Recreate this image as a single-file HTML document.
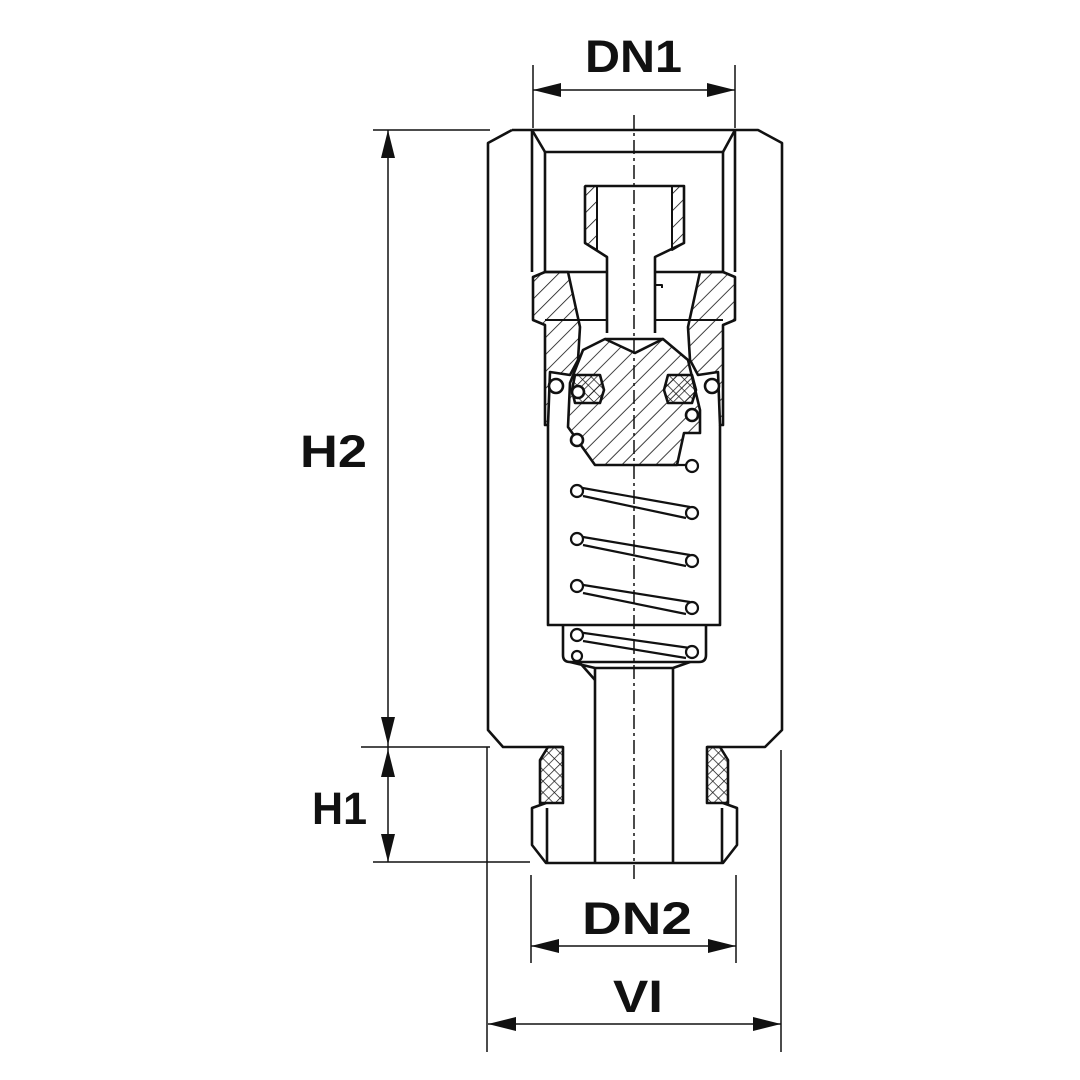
<!DOCTYPE html>
<html><head><style>html,body{margin:0;padding:0;background:#fff}svg{display:block}</style></head>
<body>
<svg width="1080" height="1080" viewBox="0 0 1080 1080" xmlns="http://www.w3.org/2000/svg">
<defs>
<pattern id="h" width="12" height="12" patternUnits="userSpaceOnUse" patternTransform="rotate(45)">
<line x1="0" y1="0" x2="0" y2="12" stroke="#111" stroke-width="1.6"/></pattern>
<pattern id="x" width="8" height="8" patternUnits="userSpaceOnUse" patternTransform="rotate(45)">
<line x1="0" y1="0" x2="0" y2="8" stroke="#111" stroke-width="1.4"/><line x1="0" y1="0" x2="8" y2="0" stroke="#111" stroke-width="1.4"/></pattern>
</defs>
<g fill="none" stroke="#111" stroke-width="2.6" stroke-linejoin="round">
<!-- outer body -->
<path d="M512,130 L758,130 L782,143 L782,730 L765,747 L707,747"/>
<path d="M563,747 L503,747 L488,730 L488,143 L512,130"/>
<!-- inner bore -->
<path d="M532,130 L545,152 L723,152 L735,130"/>
<path d="M532,130 L532,272 M545,152 L545,272 M723,152 L723,272 M735,130 L735,272"/>
<!-- poppet head -->
<path d="M585,186 L684,186 L684,243 L655,257 L655,333 M585,186 L585,243 L607,257 L607,333"/>
<path d="M597,186 L597,250 M672,186 L672,250" stroke-width="2"/>
<path d="M585,186 L597,186 L597,250 L585,243 Z" fill="url(#h)" stroke-width="2"/>
<path d="M672,186 L684,186 L684,243 L672,250 Z" fill="url(#h)" stroke-width="2"/>
<!-- seat ring top line -->
<path d="M545,272 L607,272 M655,272 L723,272"/>
<path d="M655,272 L655,285 L662,285 L662,288 M545,320 L607,320 M655,320 L723,320" stroke-width="2"/>
<!-- left hatched seat -->
<path d="M533,277 L545,272 L568,272 L580,327 L578,360 L570,375 L550,372 L548,425 L545,425 L545,325 L533,320 Z" fill="url(#h)"/>
<!-- right hatched seat -->
<path d="M735,277 L723,272 L700,272 L688,327 L690,360 L698,375 L718,372 L720,425 L723,425 L723,325 L735,320 Z" fill="url(#h)"/>
<!-- poppet body -->
<path d="M605,339 L583,350 L570,383 L568,427 L595,465 L677,465 L684,433 L700,433 L700,410 L688,360 L663,339 L635,353 Z" fill="url(#h)"/>
<line x1="605" y1="339" x2="663" y2="339"/>
<!-- o-rings -->
<path d="M575,375 L600,375 L604,390 L600,403 L575,403 L572,390 Z" fill="url(#x)"/>
<path d="M668,375 L692,375 L696,390 L692,403 L668,403 L664,390 Z" fill="url(#x)"/>
<circle cx="556" cy="386" r="7" fill="#fff"/><circle cx="578" cy="392" r="6" fill="#fff"/>
<circle cx="712" cy="386" r="7" fill="#fff"/><circle cx="692" cy="415" r="6" fill="#fff"/>
<circle cx="577" cy="440" r="6" fill="#fff"/>
<!-- spring chamber -->
<path d="M548,425 L548,625 L720,625 L720,425"/>
<path d="M563,625 L563,655 Q563,662 570,662 L699,662 Q706,662 706,655 L706,625"/>
<path d="M570,662 L595,668 L673,668 L690,662 M573,655 L595,680"/>
<!-- stem -->
<path d="M595,668 L595,863 M673,668 L673,863"/>
<!-- springs -->
<g stroke-width="2.2">
<path d="M577,487 L690,507 M583,496 L686,518"/>
<path d="M577,536 L690,555 M583,545 L686,566"/>
<path d="M577,584 L690,602 M583,593 L686,614"/>
<path d="M577,632 L690,648 M583,641 L686,658"/>
<path d="M660,465 L692,465"/>
</g>
<g fill="#fff" stroke-width="2.2">
<circle cx="577" cy="491" r="6"/><circle cx="692" cy="513" r="6"/>
<circle cx="577" cy="539" r="6"/><circle cx="692" cy="561" r="6"/>
<circle cx="577" cy="586" r="6"/><circle cx="692" cy="608" r="6"/>
<circle cx="577" cy="635" r="6"/><circle cx="692" cy="652" r="6"/>
<circle cx="692" cy="466" r="6"/><circle cx="577" cy="656" r="5"/>
</g>
<!-- seal boxes -->
<path d="M563,747 L563,803 L540,803 L540,760 L548,747 Z" fill="url(#x)"/>
<path d="M707,747 L707,803 L728,803 L728,760 L720,747 Z" fill="url(#x)"/>
<!-- bottom flange -->
<path d="M546,803 L532,808 L532,845 L546,863 L723,863 L737,845 L737,808 L723,803"/>
<path d="M547,808 L547,863 M722,808 L722,863"/>
</g>
<!-- centerline -->
<line x1="634" y1="115" x2="634" y2="880" stroke="#111" stroke-width="1.5" stroke-dasharray="14,4,3,4"/>
<!-- dimension lines -->
<g stroke="#111" stroke-width="1.5" fill="none">
<path d="M533,65 L533,128 M735,65 L735,128 M533,90 L735,90"/>
<path d="M373,130 L490,130 M361,747 L490,747 M373,862 L530,862 M388,130 L388,862"/>
<path d="M531,875 L531,963 M736,875 L736,963 M531,946 L736,946"/>
<path d="M487,747 L487,1052 M781,750 L781,1052 M488,1024 L781,1024"/>
</g>
<g fill="#111">
<path d="M533,90 L561,83 L561,97 Z M735,90 L707,83 L707,97 Z"/>
<path d="M388,130 L381,158 L395,158 Z M388,745 L381,717 L395,717 Z"/>
<path d="M388,749 L381,777 L395,777 Z M388,862 L381,834 L395,834 Z"/>
<path d="M531,946 L559,939 L559,953 Z M736,946 L708,939 L708,953 Z"/>
<path d="M488,1024 L516,1017 L516,1031 Z M781,1024 L753,1017 L753,1031 Z"/>
</g>
<g font-family="Liberation Sans, sans-serif" font-weight="bold" font-size="45" fill="#111">
<text x="585" y="72" textLength="97" lengthAdjust="spacingAndGlyphs">DN1</text>
<text x="300" y="467" textLength="67" lengthAdjust="spacingAndGlyphs">H2</text>
<text x="312" y="824" textLength="55" lengthAdjust="spacingAndGlyphs">H1</text>
<text x="582" y="934" textLength="110" lengthAdjust="spacingAndGlyphs">DN2</text>
<text x="613" y="1012" textLength="50" lengthAdjust="spacingAndGlyphs">VI</text>
</g>
</svg>
</body></html>
